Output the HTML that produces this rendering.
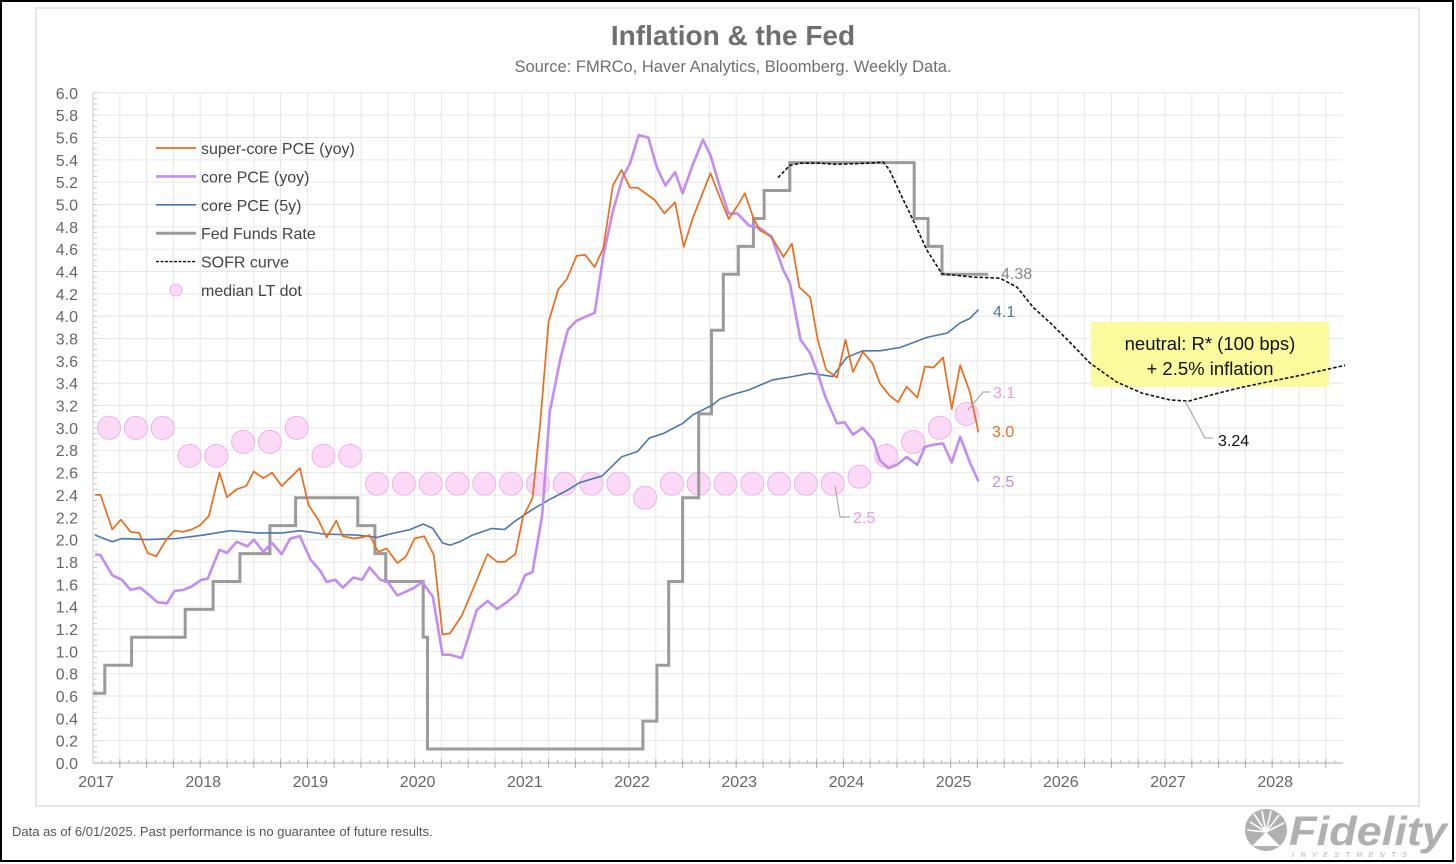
<!DOCTYPE html>
<html><head><meta charset="utf-8"><title>Inflation &amp; the Fed</title>
<style>
html,body{margin:0;padding:0;background:#fff;}
svg{display:block;font-family:"Liberation Sans",Arial,sans-serif;}
</style></head>
<body>
<svg id="chart" width="1456" height="864" viewBox="0 0 1456 864" xmlns="http://www.w3.org/2000/svg">
  <rect x="1" y="1" width="1452" height="860" fill="#fff" stroke="#000" stroke-width="2"/>
  <rect x="36" y="8" width="1383" height="798" fill="#fff" stroke="#cfcfcf" stroke-width="1"/>
  <text x="733" y="45" text-anchor="middle" font-size="28" font-weight="bold" fill="#6f6f6f">Inflation &amp; the Fed</text>
  <text x="733" y="72" text-anchor="middle" font-size="16.5" fill="#6f6f6f">Source: FMRCo, Haver Analytics, Bloomberg. Weekly Data.</text>
  <g id="grid"></g>
  <g id="axes"></g>
  <g id="boxg"></g>
  <g id="series"></g>
  <g id="annot"></g>
  <g id="legend"></g>
  <text x="12" y="836" font-size="13" fill="#555">Data as of 6/01/2025. Past performance is no guarantee of future results.</text>
  <g>
    <circle cx="1266" cy="830" r="21" fill="#b0b0b0"/>
    <path d="M1252 846 L1266 832 L1280 846 Z" fill="#fff"/>
    <g stroke="#fff" stroke-width="1.6">
      <line x1="1266" y1="832" x2="1250" y2="822"/><line x1="1266" y1="832" x2="1254" y2="814"/>
      <line x1="1266" y1="832" x2="1262" y2="811"/><line x1="1266" y1="832" x2="1271" y2="811"/>
      <line x1="1266" y1="832" x2="1279" y2="815"/><line x1="1266" y1="832" x2="1284" y2="823"/>
      <line x1="1266" y1="832" x2="1247" y2="830"/>
    </g>
    <text x="1289" y="845" font-size="41" font-weight="bold" font-style="italic" fill="#b0b0b0" textLength="158" lengthAdjust="spacingAndGlyphs">Fidelity</text>
    <text x="1292" y="857" font-size="7" letter-spacing="6.5" font-style="italic" fill="#b0b0b0">INVESTMENTS</text>
  </g>
</svg>
<script>
// ---- data ----
const superDates=[2017.02,2017.07,2017.18,2017.26,2017.35,2017.43,2017.51,2017.59,2017.69,2017.76,2017.84,2017.92,2018.00,2018.08,2018.18,2018.25,2018.34,2018.43,2018.50,2018.59,2018.67,2018.76,2018.93,2019.01,2019.10,2019.18,2019.27,2019.33,2019.43,2019.51,2019.58,2019.66,2019.74,2019.84,2019.92,2020.00,2020.09,2020.18,2020.26,2020.33,2020.44,2020.56,2020.68,2020.77,2020.84,2020.94,2021.01,2021.10,2021.17,2021.25,2021.34,2021.42,2021.51,2021.59,2021.68,2021.76,2021.85,2021.93,2022.01,2022.08,2022.24,2022.33,2022.43,2022.51,2022.60,2022.69,2022.76,2022.85,2022.93,2023.02,2023.08,2023.16,2023.22,2023.33,2023.44,2023.52,2023.59,2023.69,2023.76,2023.84,2023.94,2024.02,2024.09,2024.18,2024.27,2024.34,2024.43,2024.51,2024.59,2024.69,2024.76,2024.84,2024.93,2025.01,2025.09,2025.18,2025.26];
const superVals=[2.40,2.40,2.09,2.18,2.07,2.06,1.88,1.85,2.01,2.08,2.07,2.09,2.13,2.21,2.60,2.38,2.45,2.48,2.61,2.55,2.60,2.48,2.64,2.31,2.18,2.02,2.17,2.03,2.01,2.02,2.04,1.89,1.92,1.79,1.85,2.01,2.03,1.86,1.15,1.16,1.32,1.59,1.87,1.80,1.80,1.87,2.20,2.37,3.02,3.95,4.24,4.33,4.54,4.55,4.44,4.61,5.17,5.31,5.15,5.15,5.04,4.92,5.02,4.62,4.89,5.11,5.28,5.06,4.87,5.00,5.10,4.88,4.77,4.71,4.53,4.65,4.26,4.17,3.79,3.52,3.45,3.79,3.50,3.68,3.58,3.40,3.29,3.23,3.37,3.27,3.55,3.54,3.63,3.17,3.56,3.32,2.96];
const coreDates=[2017.02,2017.07,2017.18,2017.27,2017.35,2017.44,2017.53,2017.60,2017.69,2017.76,2017.84,2017.92,2018.01,2018.07,2018.18,2018.25,2018.34,2018.44,2018.50,2018.59,2018.67,2018.76,2018.84,2018.93,2019.03,2019.12,2019.18,2019.26,2019.33,2019.43,2019.51,2019.58,2019.68,2019.75,2019.84,2019.91,2020.00,2020.07,2020.17,2020.26,2020.33,2020.44,2020.58,2020.68,2020.77,2020.86,2020.96,2021.03,2021.10,2021.19,2021.26,2021.36,2021.43,2021.51,2021.68,2021.76,2021.85,2021.94,2022.01,2022.09,2022.18,2022.26,2022.34,2022.43,2022.50,2022.60,2022.69,2022.76,2022.85,2022.93,2023.01,2023.12,2023.22,2023.33,2023.44,2023.50,2023.60,2023.69,2023.76,2023.83,2023.94,2024.01,2024.09,2024.18,2024.28,2024.34,2024.42,2024.50,2024.59,2024.69,2024.76,2024.84,2024.93,2025.01,2025.09,2025.18,2025.26];
const coreVals=[1.87,1.86,1.68,1.64,1.55,1.57,1.50,1.44,1.43,1.54,1.55,1.58,1.64,1.65,1.91,1.88,1.98,1.94,2.00,1.89,1.97,1.87,2.01,2.03,1.82,1.72,1.62,1.64,1.57,1.66,1.64,1.75,1.64,1.62,1.50,1.53,1.57,1.62,1.49,0.97,0.97,0.94,1.37,1.45,1.38,1.44,1.52,1.68,1.71,2.22,3.14,3.62,3.88,3.96,4.03,4.54,4.94,5.24,5.37,5.62,5.60,5.33,5.17,5.29,5.10,5.37,5.58,5.44,5.15,4.92,4.92,4.81,4.79,4.71,4.41,4.30,3.79,3.67,3.49,3.28,3.04,3.05,2.94,3.00,2.89,2.71,2.64,2.67,2.74,2.67,2.83,2.85,2.86,2.69,2.92,2.69,2.52];
const core5Dates=[2017.02,2017.18,2017.27,2017.50,2017.78,2018.03,2018.28,2018.53,2018.77,2018.93,2019.15,2019.46,2019.65,2019.77,2019.96,2020.08,2020.17,2020.26,2020.33,2020.42,2020.54,2020.72,2020.84,2020.93,2021.10,2021.26,2021.42,2021.54,2021.75,2021.93,2022.08,2022.19,2022.32,2022.50,2022.60,2022.77,2022.85,2022.97,2023.12,2023.19,2023.34,2023.53,2023.69,2023.90,2024.03,2024.18,2024.34,2024.53,2024.78,2024.97,2025.09,2025.18,2025.26];
const core5Vals=[2.04,1.98,2.01,2.00,2.01,2.04,2.08,2.06,2.06,2.08,2.05,2.04,2.02,2.05,2.09,2.14,2.10,1.97,1.95,1.98,2.04,2.10,2.09,2.16,2.27,2.36,2.44,2.51,2.57,2.74,2.79,2.91,2.95,3.04,3.12,3.20,3.26,3.30,3.34,3.37,3.43,3.46,3.49,3.46,3.63,3.69,3.69,3.72,3.81,3.85,3.94,3.98,4.06];
const fedDates=[2017.00,2017.11,2017.36,2017.86,2018.12,2018.37,2018.65,2018.89,2019.47,2019.63,2019.73,2020.08,2020.12,2022.13,2022.26,2022.37,2022.50,2022.65,2022.77,2022.88,2023.02,2023.16,2023.26,2023.50,2024.66,2024.79,2024.92];
const fedVals=[0.625,0.875,1.125,1.375,1.625,1.875,2.125,2.375,2.125,1.875,1.625,1.125,0.125,0.375,0.875,1.625,2.375,3.125,3.875,4.375,4.625,4.875,5.125,5.375,4.875,4.625,4.375];
const fedEnd=2025.35;
const sofrDates=[2023.39,2023.50,2023.60,2023.78,2023.94,2024.22,2024.37,2024.43,2024.53,2024.65,2024.78,2024.92,2025.21,2025.46,2025.62,2025.77,2025.93,2026.09,2026.30,2026.55,2026.79,2027.05,2027.22,2027.49,2027.70,2027.95,2028.26,2028.68];
const sofrVals=[5.24,5.35,5.37,5.37,5.36,5.37,5.38,5.31,5.10,4.86,4.59,4.38,4.35,4.34,4.26,4.08,3.94,3.79,3.58,3.41,3.31,3.25,3.24,3.31,3.36,3.41,3.47,3.56];
const dotDates=[2017.15,2017.40,2017.65,2017.90,2018.15,2018.40,2018.65,2018.90,2019.15,2019.40,2019.65,2019.90,2020.15,2020.40,2020.65,2020.90,2021.15,2021.40,2021.65,2021.90,2022.15,2022.40,2022.65,2022.90,2023.15,2023.40,2023.65,2023.90,2024.15,2024.40,2024.65,2024.90,2025.15];
const dotVals=[3.0,3.0,3.0,2.75,2.75,2.875,2.875,3.0,2.75,2.75,2.5,2.5,2.5,2.5,2.5,2.5,2.5,2.5,2.5,2.5,2.375,2.5,2.5,2.5,2.5,2.5,2.5,2.5,2.5625,2.75,2.875,3.0,3.125];
const yTicks=[0,0.2,0.4,0.6,0.8,1.0,1.2,1.4,1.6,1.8,2.0,2.2,2.4,2.6,2.8,3.0,3.2,3.4,3.6,3.8,4.0,4.2,4.4,4.6,4.8,5.0,5.2,5.4,5.6,5.8,6.0];
const xYears=[2017,2018,2019,2020,2021,2022,2023,2024,2025,2026,2027,2028];

// ---- scales ----
const X0=93, PX_YEAR=107.2, Y0=763, PX_UNIT=111.7, XEND=1343;
const xS=d=>X0+(d-2017)*PX_YEAR;
const yS=v=>Y0-v*PX_UNIT;
const NS='http://www.w3.org/2000/svg';
function mk(tag,attrs,parent){const e=document.createElementNS(NS,tag);for(const k in attrs)e.setAttribute(k,attrs[k]);parent.appendChild(e);return e;}
const grid=document.getElementById('grid'),axes=document.getElementById('axes'),boxg=document.getElementById('boxg'),series=document.getElementById('series'),annot=document.getElementById('annot'),legend=document.getElementById('legend');

// grid
yTicks.forEach(v=>{
  const l=mk('line',{x1:X0,x2:XEND,y1:yS(v),y2:yS(v),stroke:'#e6e6e6','stroke-width':1},grid);
  
  
  const t=mk('text',{x:78,y:yS(v)+6,'text-anchor':'end','font-size':16,fill:'#666'},axes);
  t.textContent=v.toFixed(1);
  
  
});
for(let q=1;2017+q*0.25<=2028.66;q++){
  const x=xS(2017+q*0.25);
  const l=mk('line',{x1:x,x2:x,y1:yS(6),y2:Y0,stroke:'#e6e6e6','stroke-width':1},grid);
  
  
  mk('line',{x1:x,x2:x,y1:Y0-4,y2:Y0+5,stroke:'#aaa','stroke-width':1},axes);
}
for(let m=1;2017+m/12<=2028.66;m++){const x=xS(2017+m/12);mk('line',{x1:x,x2:x,y1:Y0-3,y2:Y0,stroke:'#bbb','stroke-width':1},axes);}
for(let i=0;i<=120;i++){const y=Y0-i*PX_UNIT/20;mk('line',{x1:X0,x2:X0+4,y1:y,y2:y,stroke:'#ccc','stroke-width':1},axes);}
const xa=mk('line',{x1:X0,x2:XEND,y1:Y0,y2:Y0,stroke:'#aaa','stroke-width':1},axes);


const ya=mk('line',{x1:X0,x2:X0,y1:yS(6),y2:Y0,stroke:'#ccc','stroke-width':1},axes);


xYears.forEach(y=>{
  const t=mk('text',{x:xS(y)+3,y:787,'text-anchor':'middle','font-size':16,fill:'#666'},axes);
  t.textContent=String(y);
  
  
});

// note box (behind series)
const box=mk('rect',{x:1091,y:322,width:238,height:65,fill:'#fbfb9e'},boxg);


const n1=mk('text',{x:1210,y:350,'text-anchor':'middle','font-size':18.5,fill:'#111'},boxg);n1.textContent='neutral: R* (100 bps)';


const n2=mk('text',{x:1210,y:375,'text-anchor':'middle','font-size':18.5,fill:'#111'},boxg);n2.textContent='+ 2.5% inflation';



// dots
dotDates.forEach((d,i)=>{
  const c=mk('circle',{cx:xS(d),cy:yS(dotVals[i]),r:11.5,fill:'#fbd9f7',stroke:'#eab4e8','stroke-width':1},series);
  
  
});
function pathFrom(ds,vs){return ds.map((d,i)=>(i?'L':'M')+xS(d).toFixed(1)+' '+yS(vs[i]).toFixed(1)).join(' ');}
// fed funds step
let fp='';
fedDates.forEach((d,i)=>{const x=xS(d),y=yS(fedVals[i]);fp+=(i?'L'+x.toFixed(1)+' '+yS(fedVals[i-1]).toFixed(1)+' L':'M')+x.toFixed(1)+' '+y.toFixed(1)+' ';});
fp+='L'+xS(fedEnd).toFixed(1)+' '+yS(fedVals[fedVals.length-1]).toFixed(1);
const fed=mk('path',{d:fp,fill:'none',stroke:'#9b9b9b','stroke-width':3,'stroke-linejoin':'miter'},series);


const c5=mk('path',{d:pathFrom(core5Dates,core5Vals),fill:'none',stroke:'#4a76ae','stroke-width':1.6},series);


const cp=mk('path',{d:pathFrom(coreDates,coreVals),fill:'none',stroke:'#c38cf2','stroke-width':2.6,'stroke-linejoin':'round'},series);


const sp=mk('path',{d:pathFrom(superDates,superVals),fill:'none',stroke:'#ec6c1c','stroke-width':1.7,'stroke-linejoin':'round'},series);


const so=mk('path',{d:pathFrom(sofrDates,sofrVals),fill:'none',stroke:'#111','stroke-width':1.6,'stroke-dasharray':'3.5 2'},series);



// annotations
function lbl(txt,x,y,col,name,size){const t=mk('text',{x:x,y:y,'font-size':size||16,fill:col},annot);t.textContent=txt;return t;}
lbl('4.38',1001,279,'#888','fed-end-label');
lbl('4.1',993,317,'#4a76ae','core5-end-label');
mk('polyline',{points:'968,410 983,392 990,392',fill:'none',stroke:'#aaa','stroke-width':1.2},annot);
lbl('3.1',993,398,'#ee99e6','dot-end-label');
lbl('3.0',992,437,'#ec6c1c','super-end-label');
lbl('2.5',992,487,'#c38cf2','core-end-label');
mk('polyline',{points:'835,486 840,517 850,517',fill:'none',stroke:'#aaa','stroke-width':1.2},annot);
lbl('2.5',853,523,'#ee99e6','dot-2024-label');
mk('polyline',{points:'1185,401 1205,438 1213,438',fill:'none',stroke:'#aaa','stroke-width':1.2},annot);
lbl('3.24',1218,446,'#111','sofr-min-label');

// legend
const items=[['super-core PCE (yoy)','line','#ec6c1c',1.7,''],['core PCE (yoy)','line','#c38cf2',2.6,''],['core PCE (5y)','line','#4a76ae',1.6,''],['Fed Funds Rate','line','#9b9b9b',3,''],['SOFR curve','line','#111',1.4,'3 1.5'],['median LT dot','dot','#fbd9f7',0,'']];
items.forEach((it,i)=>{
  const y=153+i*28.4;
  const g=mk('g',{},legend);
  
  
  if(it[1]==='line'){mk('line',{x1:156,x2:196,y1:y-5,y2:y-5,stroke:it[2],'stroke-width':it[3],'stroke-dasharray':it[4]||'none'},g);}
  else{mk('circle',{cx:176,cy:y-5,r:6,fill:it[2],stroke:'#eab4e8'},g);}
  const t=mk('text',{x:201,y:y+1,'font-size':16,fill:'#444'},g);t.textContent=it[0];
});
</script>
</body></html>
